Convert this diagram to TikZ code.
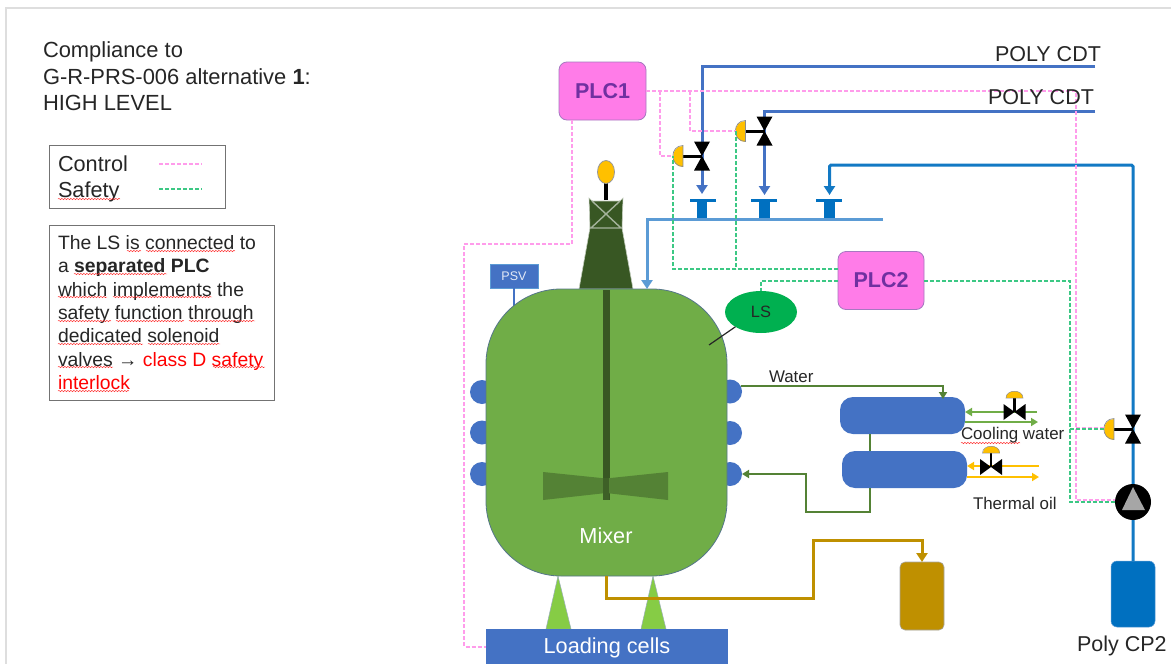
\documentclass[tikz,border=0pt]{standalone}
\usepackage{fontspec}
\setmainfont{Liberation Sans}
\usetikzlibrary{arrows.meta,shapes.geometric,decorations.pathmorphing}
\definecolor{ctrlpink}{HTML}{FF9CEB}
\definecolor{safegreen}{HTML}{00B050}
\definecolor{safeline}{HTML}{3CC884}
\definecolor{plcfill}{HTML}{FF7CE8}
\definecolor{plcedge}{HTML}{A678C0}
\definecolor{plctext}{HTML}{7030A0}
\definecolor{bluemain}{HTML}{4472C4}
\definecolor{bluedeep}{HTML}{0070C0}
\definecolor{bluelight}{HTML}{5B9BD5}
\definecolor{vessel}{HTML}{70AD47}
\definecolor{vesseledge}{HTML}{55768A}
\definecolor{darkgreen}{HTML}{385723}
\definecolor{midgreen}{HTML}{548235}
\definecolor{supportgreen}{HTML}{86CC45}
\definecolor{amber}{HTML}{FFC000}
\definecolor{gold}{HTML}{BF9000}
\definecolor{inktext}{HTML}{262626}
\newcommand{\fs}[1]{\fontsize{#1}{#1}\selectfont}
\tikzset{
  x=1pt,y=-1pt,
  ctrl/.style={draw=ctrlpink,line width=2pt,dash pattern=on 4pt off 2pt},
  safe/.style={draw=safeline,line width=2pt,dash pattern=on 4pt off 2pt},
  plcbox/.style={rectangle,rounded corners=8pt,draw=plcedge,fill=plcfill,line width=.8pt,outer sep=0pt,inner sep=0pt,minimum width=87pt,minimum height=58pt,font=\fs{21.5}\bfseries,text=plctext},
  plainlabel/.style={inner sep=0pt,outer sep=0pt,text=inktext},
  notebox/.style={rectangle,draw=black!55,line width=1pt,outer sep=0pt,inner sep=0pt},
  nozzle/.style={circle,fill=bluemain,minimum size=24pt,inner sep=0pt,outer sep=0pt},
  pipemain/.style={draw=bluemain,line width=3pt},
  tipA/.style={-{Triangle[width=11pt,length=9pt]}},
  tipB/.style={-{Triangle[width=8pt,length=7pt]}},
  tbar/.style={rectangle,fill=bluedeep,minimum width=26pt,minimum height=3pt,inner sep=0pt,outer sep=0pt},
  tstem/.style={rectangle,fill=bluedeep,minimum width=10.5pt,minimum height=17pt,inner sep=0pt,outer sep=0pt},
  squig/.style={draw=red!85!white,line width=.45pt,decorate,decoration={snake,segment length=3pt,amplitude=.7pt}},
  valvev/.pic={
    \fill[black] (-8,-14.5) -- (8,-14.5) -- (0,0) -- (8,14.5) -- (-8,14.5) -- (0,0) -- cycle;
    \draw[black,line width=3pt] (-19,0) -- (0,0);
    \draw[draw=black!45,fill=amber,line width=.7pt] (-19,-10.5) .. controls (-32.5,-10.5) and (-32.5,10.5) .. (-19,10.5) -- cycle;
    \coordinate (-act) at (-29,0);
  },
  valveh/.pic={
    \draw[black,line width=2.6pt] (0,0) -- (0,-14);
    \fill[black] (-11,-8) -- (-11,8) -- (0,0) -- (11,-8) -- (11,8) -- (0,0) -- cycle;
    \draw[draw=black!45,fill=amber,line width=.5pt] (-8.5,-14) .. controls (-8.5,-23) and (8.5,-23) .. (8.5,-14) -- cycle;
  },
}
\begin{document}
\begin{tikzpicture}
\useasboundingbox (0,0) rectangle (1171,664);
\fill[white] (0,0) rectangle (1171,664);
% slide frame
\coordinate (frameA) at (6,664);
\coordinate (frameB) at (1171,8);
\draw[draw=black!13,line width=1.3pt] (frameA) |- (frameB);

% ---------- left texts
\node[plainlabel,anchor=west,align=left,font=\fontsize{21.9}{26.5}\selectfont] (title) at (43,76.5)
  {Compliance to\\G-R-PRS-006 alternative \textbf{1}:\\HIGH LEVEL};
\node[notebox,minimum width=176pt,minimum height=63pt] (legend) at (137,176.5) {};
\node[plainlabel,anchor=west,align=left,font=\fontsize{21.7}{26}\selectfont] (legendtext) at (58,178.5) {Control\\Safety};
\coordinate (lgA) at (159,164); \coordinate (lgB) at (202,164);
\coordinate (lgC) at (159,189); \coordinate (lgD) at (202,189);
\draw[ctrl] (lgA) -- (lgB);
\draw[safe] (lgC) -- (lgD);
\node[notebox,minimum width=225pt,minimum height=175pt] (note) at (161.5,312.5) {};
\node[plainlabel,anchor=west,align=left,font=\fontsize{19.35}{23.35}\selectfont] (notetext) at (58,312.5)
  {The LS is connected to\\a \textbf{separated PLC}\\which implements the\\safety function through\\dedicated solenoid\\valves → \textcolor{red}{class D safety}\\\textcolor{red}{interlock}};
\foreach \xa/\xb/\yy in {58/120/199,127/141/251,146/235/251,74/167/274,58/107/297,113/212/297,58/111/321,116/184/321,189/255/321,58/143/344,148/220/344,58/113/367,213/265/367,58/129/391,961/1020/443,627/673/656}
  \draw[squig] (\xa,\yy) -- (\xb,\yy);

% ---------- vessel
\node[nozzle] (ln1) at (482,392) {};
\node[nozzle] (ln2) at (482,432.5) {};
\node[nozzle] (ln3) at (482,474) {};
\node[nozzle] (rn1) at (730,391.5) {};
\node[nozzle] (rn2) at (730,433) {};
\node[nozzle] (rn3) at (730,474) {};
\node[rectangle,fill=bluemain,draw=bluelight,line width=.5pt,inner sep=0pt,outer sep=0pt,minimum width=48pt,minimum height=24pt,text=white!85!bluemain,font=\fs{12.5}] (psv) at (514,276) {PSV};
\coordinate (psvend) at (514,312);
\draw[draw=bluemain,line width=2pt] (psv.south) -- (psvend);
% supports and load cells
\fill[supportgreen,draw=vesseledge!60,line width=.5pt] (558,576) -- (546,629) -- (571,629) -- cycle;
\fill[supportgreen,draw=vesseledge!60,line width=.5pt] (653,576) -- (641,629) -- (666,629) -- cycle;
\node[rectangle,fill=bluemain,inner sep=0pt,outer sep=0pt,minimum width=242pt,minimum height=35pt] (cells) at (607,646.5) {};
\node[plainlabel,text=white,font=\fs{21.7}] (cellslabel) at (607,648) {Loading cells};
% motor
\fill[darkgreen,draw=white!70!darkgreen,line width=.6pt] (579,289) -- (590,228) -- (589,198) -- (592,201) -- (620,201) -- (623,198) -- (622,228) -- (633,289) -- cycle;
\draw[draw=white!55!darkgreen,line width=1.4pt] (590,228) -- (622,228) (592,201) -- (621,228) (620,201) -- (591,228);
\draw[black,line width=4pt] (606,200) -- (606,182);
\node[ellipse,fill=amber,draw=black!40,line width=.8pt,minimum width=17pt,minimum height=23pt,inner sep=0pt] (sensor) at (606,172) {};
\node[rectangle,rounded corners=75pt,fill=vessel,draw=vesseledge,line width=.8pt,inner sep=0pt,outer sep=0pt,minimum width=241pt,minimum height=287pt] (mixer) at (606.5,432.5) {};
\fill[darkgreen] (602.5,289.5) rectangle (609.5,500);
\fill[midgreen] (543,472) -- (606,478.5) -- (668,472) -- (668,500) -- (606,493) -- (543,500) -- cycle;
\fill[darkgreen!80!midgreen] (603,478) rectangle (609,500);
\node[plainlabel,text=white,font=\fs{21.7}] (mixerlabel) at (606,536) {Mixer};

% ---------- PLCs and level switch
\node[plcbox] (plc1) at (602.5,91) {PLC1};
\node[plcbox,minimum width=86pt] (plc2) at (881,280.5) {PLC2};
\node[ellipse,fill=safegreen,inner sep=0pt,outer sep=0pt,minimum width=72pt,minimum height=42pt,font=\fs{16.4},text=inktext] (ls) at (761,312) {LS};
\coordinate (lsend) at (709,345);
\draw[draw=black!85,line width=1.2pt] (ls.210) -- (lsend);

% ---------- T pieces
\node[tstem] (s1) at (702,210.5) {}; \node[tbar] (t1) at (703,200.5) {};
\node[tstem] (s2) at (764.5,210.5) {}; \node[tbar] (t2) at (764,200.5) {};
\node[tstem] (s3) at (829.5,210.5) {}; \node[tbar] (t3) at (829,200.5) {};

% ---------- process pipes
\coordinate (polyA) at (1095,66);
\coordinate (polyB) at (1095,111);
\draw[pipemain,tipA,shorten >=5pt] (polyA) -| (s1.north |- t1.north);
\draw[pipemain,tipA,shorten >=4pt] (polyB) -| (s2.north |- t2.north);
\coordinate (manifoldend) at (883,219.5);
\coordinate (vin) at (647,289);
\draw[draw=bluelight,line width=3pt,tipA] (manifoldend) -| (vin);
\node[rectangle,rounded corners=6pt,fill=bluedeep,draw=bluelight,line width=.5pt,inner sep=0pt,outer sep=0pt,minimum width=44pt,minimum height=66pt] (polycp) at (1133,594) {};
\draw[draw=bluedeep!80!bluelight,line width=3pt,rounded corners=1.5pt,tipA,shorten >=4pt] (polycp.north) -- (1133,165) -| (s3.north |- t3.north);

% valves
\pic (v1) at (702,156) {valvev};
\pic (v2) at (764.5,131) {valvev};
\pic (v3) at (1133,429) {valvev};
% pump
\node[circle,fill=black,minimum size=36pt,inner sep=0pt,outer sep=0pt] (pump) at (1133,502) {};
\fill[black!35] (1133,487) -- (1122,510) -- (1145,510) -- cycle;

% ---------- signal lines
\draw[ctrl] ([xshift=-30.5pt]plc1.south) -- (572,244) -- (464,244) |- (cells.west);
\draw[ctrl] (plc1.east) -- (1076,91) |- ([yshift=2pt]pump.west);
\draw[ctrl] (660,91) |- (v1-act);
\draw[ctrl] (690,91) |- (v2-act);
\draw[ctrl] (1076,428) -- ([yshift=1pt]v3-act);
\coordinate (plc2link) at ([yshift=11.5pt]plc2.west);
\draw[safe] (plc2link) -| (v1-act);
\draw[safe] (v2-act) -- (v2-act |- plc2link);
\draw[safe] (plc2.west) -| (ls.north);
\draw[safe] (plc2.east) -- (1070,280.5) |- (pump.west);
\draw[safe] (1070,429) -- (v3-act);

% ---------- heat exchangers
\node[rectangle,rounded corners=13pt,fill=bluemain,inner sep=0pt,outer sep=0pt,minimum width=125pt,minimum height=37pt] (hx1) at (902.5,415.5) {};
\node[rectangle,rounded corners=13pt,fill=bluemain,inner sep=0pt,outer sep=0pt,minimum width=125pt,minimum height=37pt] (hx2) at (904.5,469.5) {};
\coordinate (hx2out) at (870,488);
\coordinate (hxin) at (943,399);
\draw[draw=midgreen,line width=2.5pt] (hx1.south -| hx2out) -- (hx2.north -| hx2out);
\draw[draw=midgreen,line width=2.5pt,tipB] (rn1.27) -| (hxin);
\draw[draw=midgreen,line width=2.5pt,tipB] (hx2out) -- (870,512) -- (806,512) |- (rn3.east);
\coordinate (cwin) at (1037,412); \coordinate (cwout) at (1038,422);
\coordinate (toin) at (1039,466); \coordinate (toout) at (1039,477);
\draw[draw=vessel,line width=2.2pt,tipB] (cwin) -- (cwin -| hx1.east);
\draw[draw=vessel,line width=2.2pt,tipB] (cwout -| hx1.east) -- (cwout);
\draw[draw=amber,line width=2.2pt,tipB] (toin) -- (toin -| hx2.east);
\draw[draw=amber,line width=2.2pt,tipB] (toout -| hx2.east) -- (toout);
\pic at (1014.5,412) {valveh};
\pic at (991,467) {valveh};

% ---------- product drum
\node[rectangle,rounded corners=5pt,fill=gold,draw=black!35,line width=.6pt,inner sep=0pt,outer sep=0pt,minimum width=44pt,minimum height=68pt] (drum) at (922,596) {};
\draw[draw=gold,line width=3pt,tipA] (mixer.south) -- (606.5,598) -- (813,598) -- (813,540.5) -| (drum.north);

% ---------- process labels
\node[plainlabel,anchor=west,font=\fs{21.5}] (cdtA) at (995,54) {POLY CDT};
\node[plainlabel,anchor=west,font=\fs{21.5}] (cdtB) at (988,97) {POLY CDT};
\node[plainlabel,anchor=west,font=\fs{16.9}] (water) at (769,377) {Water};
\node[plainlabel,anchor=west,font=\fs{16.9}] (cooling) at (961,435) {Cooling water};
\node[plainlabel,anchor=west,font=\fs{16.9}] (thermal) at (973,503) {Thermal oil};
\node[plainlabel,anchor=west,font=\fs{21.5}] (cp2) at (1077,646) {Poly CP2};
\end{tikzpicture}
\end{document}
